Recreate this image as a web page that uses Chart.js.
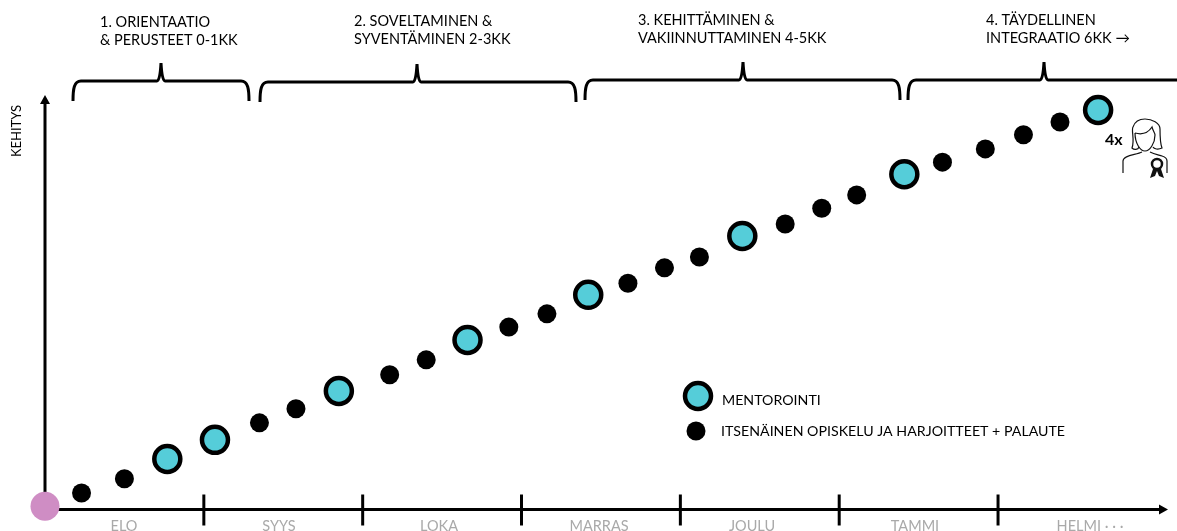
<!DOCTYPE html>
<html>
<head>
<meta charset="utf-8">
<style>
  html, body { margin: 0; padding: 0; background: #fff; overflow: hidden; }
  canvas { display: block; }
</style>
<script src="https://cdn.jsdelivr.net/npm/chart.js@4"></script>
</head>
<body>
<canvas id="chart" width="1177" height="531"></canvas>
<script>
// values: x in months from the start, y in % of development
var months = ['ELO', 'SYYS', 'LOKA', 'MARRAS', 'JOULU', 'TAMMI', 'HELMI \u00b7 \u00b7 \u00b7'];
var mentorMonths = [0.77, 1.07, 1.85, 2.66, 3.42, 4.39, 5.41, 6.63];
var mentorLevels = [12.2, 16.8, 28.6, 40.9, 51.8, 66.0, 80.9, 96.4];
var studyMonths = [0.23, 0.50, 1.35, 1.58, 2.17, 2.40, 2.92, 3.16, 3.67, 3.90, 4.12, 4.66, 4.89, 5.11, 5.65, 5.92, 6.16, 6.39];
var studyLevels = [4.0, 7.4, 20.9, 24.3, 32.5, 36.1, 44.0, 47.2, 54.6, 58.3, 60.9, 68.9, 72.7, 75.9, 83.8, 87.0, 90.4, 93.5];
var startMonths = [0];
var startLevels = [0.8];
var phaseLines = [
    ['1. ORIENTAATIO', '& PERUSTEET 0-1KK'],
    ['2. SOVELTAMINEN &', 'SYVENTÄMINEN 2-3KK'],
    ['3. KEHITTÄMINEN &', 'VAKIINNUTTAMINEN 4-5KK'],
    ['4. TÄYDELLINEN', 'INTEGRAATIO 6KK \u2192']
];

var FONT = 'Lato, "Open Sans", sans-serif';
var TEAL = '#55cdd9';

function toPoints(xs, ys) {
    return xs.map(function(x, i) { return {x: x, y: ys[i]}; });
}

function drawBrace(ctx, left, right, apex, y) {
    ctx.beginPath();
    ctx.moveTo(left, y + 20);
    ctx.bezierCurveTo(left, y + 8, left + 1, y, left + 8, y);
    ctx.lineTo(apex - 4, y);
    ctx.quadraticCurveTo(apex - 1, y, apex, y - 18);
    ctx.quadraticCurveTo(apex + 1, y, apex + 4, y);
    ctx.lineTo(right - 8, y);
    ctx.bezierCurveTo(right - 1, y, right, y + 8, right, y + 20);
    ctx.stroke();
}

function drawPerson(ctx) {
    ctx.save();
    ctx.translate(1070, 85);
    ctx.strokeStyle = '#111';
    ctx.lineWidth = 1.2;
    // hair
    ctx.beginPath();
    ctx.moveTo(69, 62);
    ctx.bezierCurveTo(68, 65, 64, 65, 62, 63);
    ctx.bezierCurveTo(65, 55, 61, 45, 63, 42);
    ctx.bezierCurveTo(65, 36, 70, 34, 75, 34);
    ctx.bezierCurveTo(82, 34, 90, 38, 90, 44);
    ctx.bezierCurveTo(90, 50, 90, 58, 92, 63);
    ctx.bezierCurveTo(88, 65, 84, 64, 83, 62);
    ctx.stroke();
    // face
    ctx.beginPath();
    ctx.moveTo(65, 48);
    ctx.bezierCurveTo(72, 50, 78, 48, 82, 42);
    ctx.bezierCurveTo(83, 46, 85, 48, 85, 50);
    ctx.bezierCurveTo(85, 58, 80, 66, 75, 66);
    ctx.bezierCurveTo(70, 66, 65, 58, 65, 48);
    ctx.stroke();
    // shoulders
    ctx.beginPath();
    ctx.moveTo(53, 88);
    ctx.lineTo(53, 76);
    ctx.bezierCurveTo(53, 70, 66, 70, 72, 67);
    ctx.moveTo(80, 67);
    ctx.bezierCurveTo(84, 69, 89, 70, 92, 71);
    ctx.bezierCurveTo(95, 72, 97, 73, 97, 76);
    ctx.lineTo(97, 88);
    ctx.stroke();
    // rosette
    ctx.fillStyle = '#111';
    ctx.beginPath();
    ctx.moveTo(83, 84); ctx.lineTo(80, 93); ctx.lineTo(85, 91); ctx.lineTo(87, 86);
    ctx.lineTo(89, 91); ctx.lineTo(94, 93); ctx.lineTo(91, 84);
    ctx.closePath();
    ctx.fill();
    ctx.fillStyle = '#fff';
    ctx.lineWidth = 2.5;
    ctx.beginPath();
    ctx.arc(87, 79, 5, 0, Math.PI * 2);
    ctx.fill();
    ctx.stroke();
    ctx.restore();
}

var decorations = {
    id: 'decorations',
    beforeDatasetsDraw: function(chart) {
        var ctx = chart.ctx;
        var x = chart.scales.x;
        var y = chart.scales.y;
        var x0 = x.getPixelForValue(0);
        var y0 = y.getPixelForValue(0);
        var xEnd = chart.chartArea.right;
        var yEnd = chart.chartArea.top;

        ctx.save();
        ctx.strokeStyle = '#000';
        ctx.fillStyle = '#000';
        ctx.lineWidth = 3;

        // axes
        ctx.beginPath();
        ctx.moveTo(x0, y0);
        ctx.lineTo(xEnd - 6, y0);
        ctx.moveTo(x0, y0);
        ctx.lineTo(x0, yEnd + 6);
        ctx.stroke();
        ctx.beginPath();
        ctx.moveTo(xEnd, y0);
        ctx.lineTo(xEnd - 9, y0 - 5);
        ctx.lineTo(xEnd - 9, y0 + 5);
        ctx.closePath();
        ctx.moveTo(x0, yEnd);
        ctx.lineTo(x0 - 5, yEnd + 9);
        ctx.lineTo(x0 + 5, yEnd + 9);
        ctx.closePath();
        ctx.fill();

        // month ticks and labels
        for (var i = 1; i < months.length; i++) {
            var px = x.getPixelForValue(i);
            ctx.beginPath();
            ctx.moveTo(px, y0 - 15);
            ctx.lineTo(px, y0 + 16);
            ctx.stroke();
        }
        var labelCenters = [124, 279, 439, 599, 752, 915, 1090];
        ctx.fillStyle = '#a9a9a9';
        ctx.font = '14.5px ' + FONT;
        ctx.textAlign = 'center';
        ctx.textBaseline = 'alphabetic';
        months.forEach(function(m, i) {
            ctx.fillText(m, labelCenters[i], 531);
        });

        // phase braces and titles
        drawBrace(ctx, 73, 249, 161, 81);
        drawBrace(ctx, 260, 576, 417, 82);
        drawBrace(ctx, 585, 900, 743, 80);
        drawBrace(ctx, 908, 1185, 1044, 80);

        ctx.fillStyle = '#000';
        ctx.font = '14.5px ' + FONT;
        ctx.textAlign = 'left';
        var titleX = [100, 354, 638, 986];
        var titleY = [27, 26, 25, 25];
        phaseLines.forEach(function(lines, i) {
            ctx.fillText(lines[0], titleX[i], titleY[i]);
            ctx.fillText(lines[1], titleX[i], titleY[i] + 18);
        });

        // y axis title
        ctx.save();
        ctx.translate(21, 131);
        ctx.rotate(-Math.PI / 2);
        ctx.textAlign = 'center';
        ctx.font = '13px ' + FONT;
        ctx.fillText('KEHITYS', 0, 0);
        ctx.restore();

        // legend
        ctx.lineWidth = 4.5;
        ctx.fillStyle = TEAL;
        ctx.beginPath();
        ctx.arc(698, 396, 13, 0, Math.PI * 2);
        ctx.fill();
        ctx.stroke();
        ctx.fillStyle = '#000';
        ctx.beginPath();
        ctx.arc(696, 431, 9.5, 0, Math.PI * 2);
        ctx.fill();
        ctx.font = '14.2px ' + FONT;
        ctx.textBaseline = 'middle';
        ctx.fillText('MENTOROINTI', 722, 400);
        ctx.fillText('ITSENÄINEN OPISKELU JA HARJOITTEET + PALAUTE', 721, 431);

        // person with badge
        ctx.font = 'bold 16px ' + FONT;
        ctx.fillText('4x', 1105, 140);
        drawPerson(ctx);
        ctx.restore();
    }
};

new Chart(document.getElementById('chart'), {
    type: 'scatter',
    data: {
        datasets: [
            {
                label: 'ITSENÄINEN OPISKELU JA HARJOITTEET + PALAUTE',
                data: toPoints(studyMonths, studyLevels),
                pointRadius: 9.5,
                pointBackgroundColor: '#000',
                pointBorderWidth: 0,
                clip: false
            },
            {
                label: 'MENTOROINTI',
                data: toPoints(mentorMonths, mentorLevels),
                pointRadius: 13,
                pointBackgroundColor: TEAL,
                pointBorderColor: '#000',
                pointBorderWidth: 4.5,
                clip: false
            },
            {
                label: 'ALKU',
                data: toPoints(startMonths, startLevels),
                pointRadius: 14.5,
                pointBackgroundColor: '#cf8dc4',
                pointBorderWidth: 0,
                clip: false
            }
        ]
    },
    options: {
        responsive: false,
        animation: false,
        layout: { autoPadding: false, padding: { left: 45, right: 9, top: 95, bottom: 21.5 } },
        plugins: { legend: { display: false }, tooltip: { enabled: false } },
        scales: {
            x: { type: 'linear', display: false, min: 0, max: 7.07 },
            y: { type: 'linear', display: false, min: 0, max: 100 }
        }
    },
    plugins: [decorations]
});
</script>
</body>
</html>
